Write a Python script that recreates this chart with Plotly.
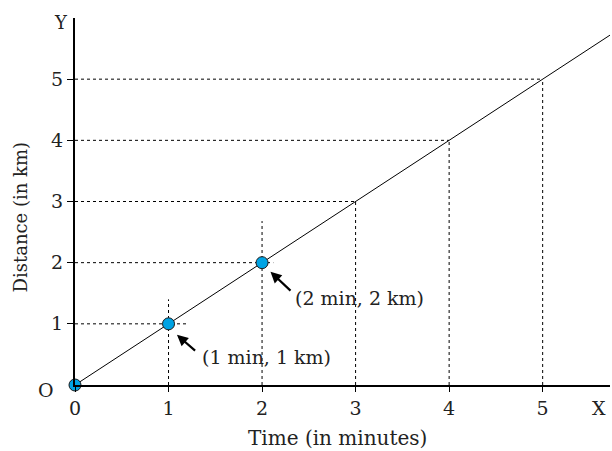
import plotly.graph_objects as go

# data
times = [0, 1, 2, 3, 4, 5]
distances = [0, 1, 2, 3, 4, 5]
marked_t = [0, 1, 2]
marked_d = [0, 1, 2]
# how far each dotted guide reaches past its point (horizontal, vertical)
guide_h_end = [1.2, 2.12, 3, 4, 5]
guide_v_end = [1.4, 2.68, 3, 4, 5]
labels = ["(1 min, 1 km)", "(2 min, 2 km)"]
x_ticks = ["0", "1", "2", "3", "4", "5"]
y_ticks = ["1", "2", "3", "4", "5"]

FONT = "DejaVu Serif"
TXT = "#222222"
fig = go.Figure()

# dotted guides
for i, v in enumerate(distances[1:]):
    fig.add_trace(go.Scatter(x=[0, guide_h_end[i]], y=[v, v], mode="lines",
                             line=dict(color="black", width=1, dash="dot"),
                             hoverinfo="skip", showlegend=False))
    fig.add_trace(go.Scatter(x=[v, v], y=[0, guide_v_end[i]], mode="lines",
                             line=dict(color="black", width=1, dash="dot"),
                             hoverinfo="skip", showlegend=False))

# main line
fig.add_trace(go.Scatter(x=[times[0], 6.5], y=[distances[0], 6.5], mode="lines",
                         line=dict(color="black", width=1), showlegend=False))

# points
fig.add_trace(go.Scatter(x=marked_t, y=marked_d, mode="markers", cliponaxis=False,
                         marker=dict(size=12, color="#00A3E4",
                                     line=dict(color="#1a1a1a", width=1)),
                         showlegend=False))

# arrows + labels
arrows = [((1.09, 0.82), (1.30, 0.54), (1.34, 0.46)),
          ((2.09, 1.85), (2.32, 1.52), (2.33, 1.42))]
for (head, tail, txt), lab in zip(arrows, labels):
    fig.add_annotation(x=head[0], y=head[1], ax=tail[0], ay=tail[1],
                       xref="x", yref="y", axref="x", ayref="y",
                       showarrow=True, arrowhead=2, arrowsize=1, arrowwidth=2.2,
                       arrowcolor="black", text="")
    fig.add_annotation(x=txt[0], y=txt[1], xref="x", yref="y", text=lab,
                       showarrow=False, xanchor="left", yanchor="middle",
                       font=dict(family=FONT, size=19, color=TXT))

# axis letters
fig.add_annotation(x=0, y=6.0, xref="x", yref="y", text="Y", showarrow=False,
                   xshift=-14, yshift=-4, xanchor="center", yanchor="middle",
                   font=dict(family=FONT, size=18, color=TXT))
fig.add_annotation(x=5.72, y=0, xref="x", yref="y", text="X", showarrow=False,
                   xshift=-11, yshift=-23, xanchor="center", yanchor="middle",
                   font=dict(family=FONT, size=19, color=TXT))
fig.add_annotation(x=0, y=0, xref="x", yref="y", text="O", showarrow=False,
                   xshift=-29, yshift=-5, xanchor="center", yanchor="middle",
                   font=dict(family=FONT, size=19, color=TXT))

# axis titles
fig.add_annotation(x=0.5, y=0, xref="paper", yref="paper", text="Time (in minutes)",
                   showarrow=False, xanchor="center", yanchor="middle", yshift=-53,
                   xshift=-5,
                   font=dict(family=FONT, size=20, color=TXT))
fig.add_annotation(x=0, y=0.5, xref="paper", yref="paper", text="Distance (in km)",
                   showarrow=False, xanchor="center", yanchor="middle", xshift=-55,
                   yshift=-16, textangle=-90,
                   font=dict(family=FONT, size=18, color=TXT))

fig.update_layout(
    width=612, height=451,
    margin=dict(l=75, r=2, t=18, b=66),
    plot_bgcolor="white", paper_bgcolor="white",
    xaxis=dict(range=[0, 5.72], showgrid=False, zeroline=False, automargin=False,
               showline=True, linecolor="black", linewidth=2,
               tickvals=times, ticktext=x_ticks, ticks="outside", ticklen=5,
               tickcolor="black",
               tickfont=dict(family=FONT, size=19, color=TXT)),
    yaxis=dict(range=[0, 6.0], showgrid=False, zeroline=False, automargin=False,
               showline=True, linecolor="black", linewidth=2,
               tickvals=distances[1:], ticktext=y_ticks, ticks="outside",
               ticklen=6, tickcolor="black",
               tickfont=dict(family=FONT, size=19, color=TXT)),
)

fig.write_html("out.html", config={"displayModeBar": False},
               post_script="document.body.style.margin='0';document.body.style.overflow='hidden';")
